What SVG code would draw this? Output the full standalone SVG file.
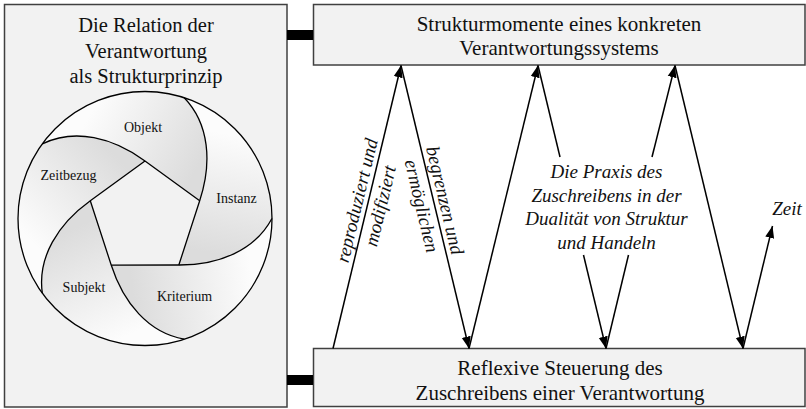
<svg xmlns="http://www.w3.org/2000/svg" xmlns:xlink="http://www.w3.org/1999/xlink" width="806" height="409" viewBox="0 0 806 409">
<style>
.box{fill:#f2f2f2;stroke:#404040;stroke-width:1.5}
.t{font-family:"Liberation Serif","Times New Roman",serif;font-size:21px;fill:#111;text-anchor:middle}
.it{font-style:italic;font-size:19px}
.lbl{font-size:14px}
.cv{fill:none;stroke:#000;stroke-width:1.3}
.ar{fill:none;stroke:#000;stroke-width:1.5;marker-end:url(#ah)}
.ln{fill:none;stroke:#000;stroke-width:1.5}
.bar{stroke:#000;stroke-width:10}
</style>
<defs>
<linearGradient id="g" gradientUnits="userSpaceOnUse" x1="200" y1="163" x2="95" y2="105">
<stop offset="0" stop-color="#dcdcdc"/>
<stop offset="1" stop-color="#fcfcfc"/>
</linearGradient>
<marker id="ah" viewBox="0 0 12 10" refX="12" refY="5" markerWidth="12" markerHeight="10" markerUnits="userSpaceOnUse" orient="auto">
<path d="M0,0.5 L12,5 L0,9.5 Z" fill="#000"/>
</marker>
<path id="blade" fill="url(#g)" d="M42.3,143.9 A127,127 0 0 1 184.2,97.7 C209,124.1 212.1,163.1 199.7,200.7 L145,161 C113,137.5 75,128 42.3,143.9 Z"/>
<path id="curve" class="cv" d="M199.7,200.7 L145,161 C113,137.5 75,128 42.3,143.9"/>
</defs>

<g id="left-box">
<rect class="box" x="4.5" y="4.5" width="282.5" height="402.5"/>
<text class="t" x="146" y="32" style="font-size:20.5px">Die Relation der</text>
<text class="t" x="146" y="57.5" style="font-size:20.5px">Verantwortung</text>
<text class="t" x="146" y="83" style="font-size:20.5px">als Strukturprinzip</text>
<g id="aperture">
<use xlink:href="#blade"/>
<use xlink:href="#blade" transform="rotate(72 145 218.5)"/>
<use xlink:href="#blade" transform="rotate(144 145 218.5)"/>
<use xlink:href="#blade" transform="rotate(216 145 218.5)"/>
<use xlink:href="#blade" transform="rotate(288 145 218.5)"/>
<circle cx="145" cy="218.5" r="127" fill="none" stroke="#000" stroke-width="1.3"/>
<use xlink:href="#curve"/>
<use xlink:href="#curve" transform="rotate(72 145 218.5)"/>
<use xlink:href="#curve" transform="rotate(144 145 218.5)"/>
<use xlink:href="#curve" transform="rotate(216 145 218.5)"/>
<use xlink:href="#curve" transform="rotate(288 145 218.5)"/>
</g>
<text class="t lbl" x="143" y="132">Objekt</text>
<text class="t lbl" x="68.5" y="180">Zeitbezug</text>
<text class="t lbl" x="236.5" y="203">Instanz</text>
<text class="t lbl" x="84" y="292">Subjekt</text>
<text class="t lbl" x="184.5" y="300.5">Kriterium</text>
</g>

<g id="top-box">
<rect class="box" x="313.5" y="4.5" width="491.5" height="60.5"/>
<text class="t" x="559" y="31">Strukturmomente eines konkreten</text>
<text class="t" x="559" y="55">Verantwortungssystems</text>
</g>

<g id="bottom-box">
<rect class="box" x="313.5" y="348.5" width="491.5" height="58"/>
<text class="t" x="560" y="375">Reflexive Steuerung des</text>
<text class="t" x="560" y="400">Zuschreibens einer Verantwortung</text>
</g>

<g id="connectors">
<line class="bar" x1="287" y1="35" x2="313" y2="35"/>
<line class="bar" x1="287" y1="380" x2="313" y2="380"/>
<line class="ar" x1="333" y1="348.5" x2="401" y2="65.5"/>
<line class="ar" x1="401" y1="65.5" x2="469" y2="348.5"/>
<line class="ar" x1="469" y1="348.5" x2="538" y2="65.5"/>
<line class="ln" x1="538" y1="65.5" x2="560" y2="157"/>
<line class="ar" x1="583.5" y1="255" x2="606" y2="348.5"/>
<line class="ln" x1="606" y1="348.5" x2="628.5" y2="255"/>
<line class="ar" x1="652" y1="157" x2="675" y2="65.5"/>
<line class="ar" x1="675" y1="65.5" x2="743" y2="348.5"/>
<line class="ar" x1="743" y1="348.5" x2="772.5" y2="226"/>
<g transform="translate(368,203) rotate(-76.5)">
<text class="t it" x="0" y="-5">reproduziert und</text>
<text class="t it" x="0" y="19">modifiziert</text>
</g>
<g transform="translate(434,203) rotate(76.5)">
<text class="t it" x="0" y="-5">begrenzen und</text>
<text class="t it" x="0" y="19">ermöglichen</text>
</g>
<text class="t it" x="606.5" y="178">Die Praxis des</text>
<text class="t it" x="606.5" y="201.5">Zuschreibens in der</text>
<text class="t it" x="606.5" y="225">Dualität von Struktur</text>
<text class="t it" x="606.5" y="248.5">und Handeln</text>
<text class="t it" x="787" y="215">Zeit</text>
</g>
</svg>
